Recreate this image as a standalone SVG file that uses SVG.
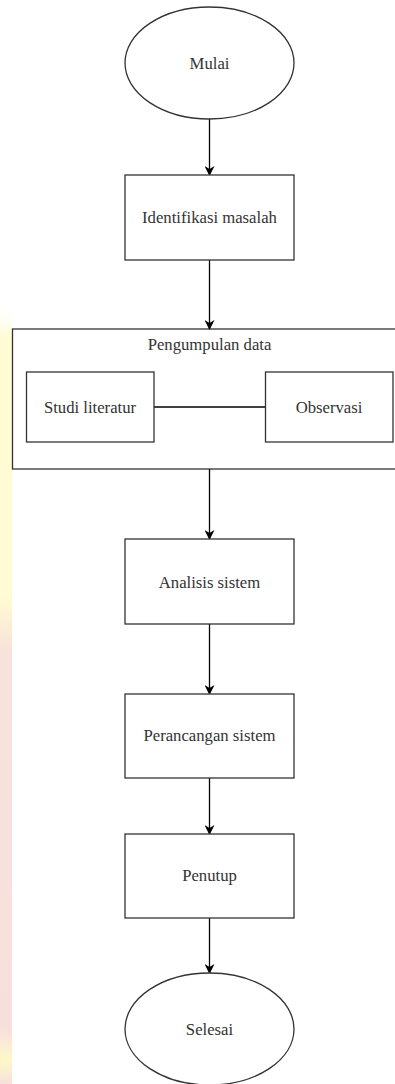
<svg xmlns="http://www.w3.org/2000/svg" width="395" height="1084" viewBox="0 0 395 1084">
<style>
.s{fill:#fff;stroke:#333;stroke-width:1.3}
.t{font-family:"Liberation Serif","Times New Roman",serif;font-size:16.7px;fill:#333;text-anchor:middle;dominant-baseline:central}
.c{stroke:#000;stroke-width:1.3;fill:none}
</style>
<defs>
<marker id="ah" viewBox="0 0 10 10" refX="9" refY="5" markerWidth="10" markerHeight="10" markerUnits="userSpaceOnUse" orient="auto">
<path d="M0,0 L10,5 L0,10 L3,5 Z" fill="#000"/>
</marker>
<linearGradient id="wm" x1="0" y1="0" x2="0" y2="1">
<stop offset="0" stop-color="#fff" stop-opacity="0"/>
<stop offset="0.05" stop-color="#fffbd2"/>
<stop offset="0.38" stop-color="#fffbd2"/>
<stop offset="0.45" stop-color="#f7e2dc"/>
<stop offset="0.93" stop-color="#f7e0dc"/>
<stop offset="0.97" stop-color="#fff8c8"/>
<stop offset="1" stop-color="#f7e0dc"/>
</linearGradient>
</defs>
<rect id="watermark" x="0" y="300" width="12" height="784" fill="url(#wm)"/>
<g id="pengumpulan"><rect class="s" x="12.5" y="329" width="390" height="140"/><text class="t" x="209.5" y="344">Pengumpulan data</text></g>
<g id="connectors">
<line class="c" x1="209.5" y1="119" x2="209.5" y2="175" marker-end="url(#ah)"/>
<line class="c" x1="209.5" y1="260" x2="209.5" y2="329" marker-end="url(#ah)"/>
<line class="c" x1="154" y1="407" x2="265" y2="407"/>
<line class="c" x1="209.5" y1="469" x2="209.5" y2="539" marker-end="url(#ah)"/>
<line class="c" x1="209.5" y1="624" x2="209.5" y2="694" marker-end="url(#ah)"/>
<line class="c" x1="209.5" y1="778" x2="209.5" y2="834" marker-end="url(#ah)"/>
<line class="c" x1="209.5" y1="918" x2="209.5" y2="973" marker-end="url(#ah)"/>
</g>
<g id="mulai"><ellipse class="s" cx="209.5" cy="63" rx="84.5" ry="56"/><text class="t" x="209.5" y="63">Mulai</text></g>
<g id="identifikasi"><rect class="s" x="125" y="175" width="169" height="85"/><text class="t" x="209.5" y="217">Identifikasi masalah</text></g>
<g id="studi"><rect class="s" x="26.5" y="372" width="127.5" height="70"/><text class="t" x="90" y="407">Studi literatur</text></g>
<g id="observasi"><rect class="s" x="265.5" y="372" width="127.5" height="70"/><text class="t" x="329" y="407">Observasi</text></g>
<g id="analisis"><rect class="s" x="125" y="539" width="169" height="85"/><text class="t" x="209.5" y="582">Analisis sistem</text></g>
<g id="perancangan"><rect class="s" x="125" y="694" width="169" height="84"/><text class="t" x="209.5" y="735">Perancangan sistem</text></g>
<g id="penutup"><rect class="s" x="125" y="834" width="169" height="84"/><text class="t" x="209.5" y="875">Penutup</text></g>
<g id="selesai"><ellipse class="s" cx="209.5" cy="1029" rx="84.5" ry="56"/><text class="t" x="209.5" y="1029">Selesai</text></g>
</svg>
